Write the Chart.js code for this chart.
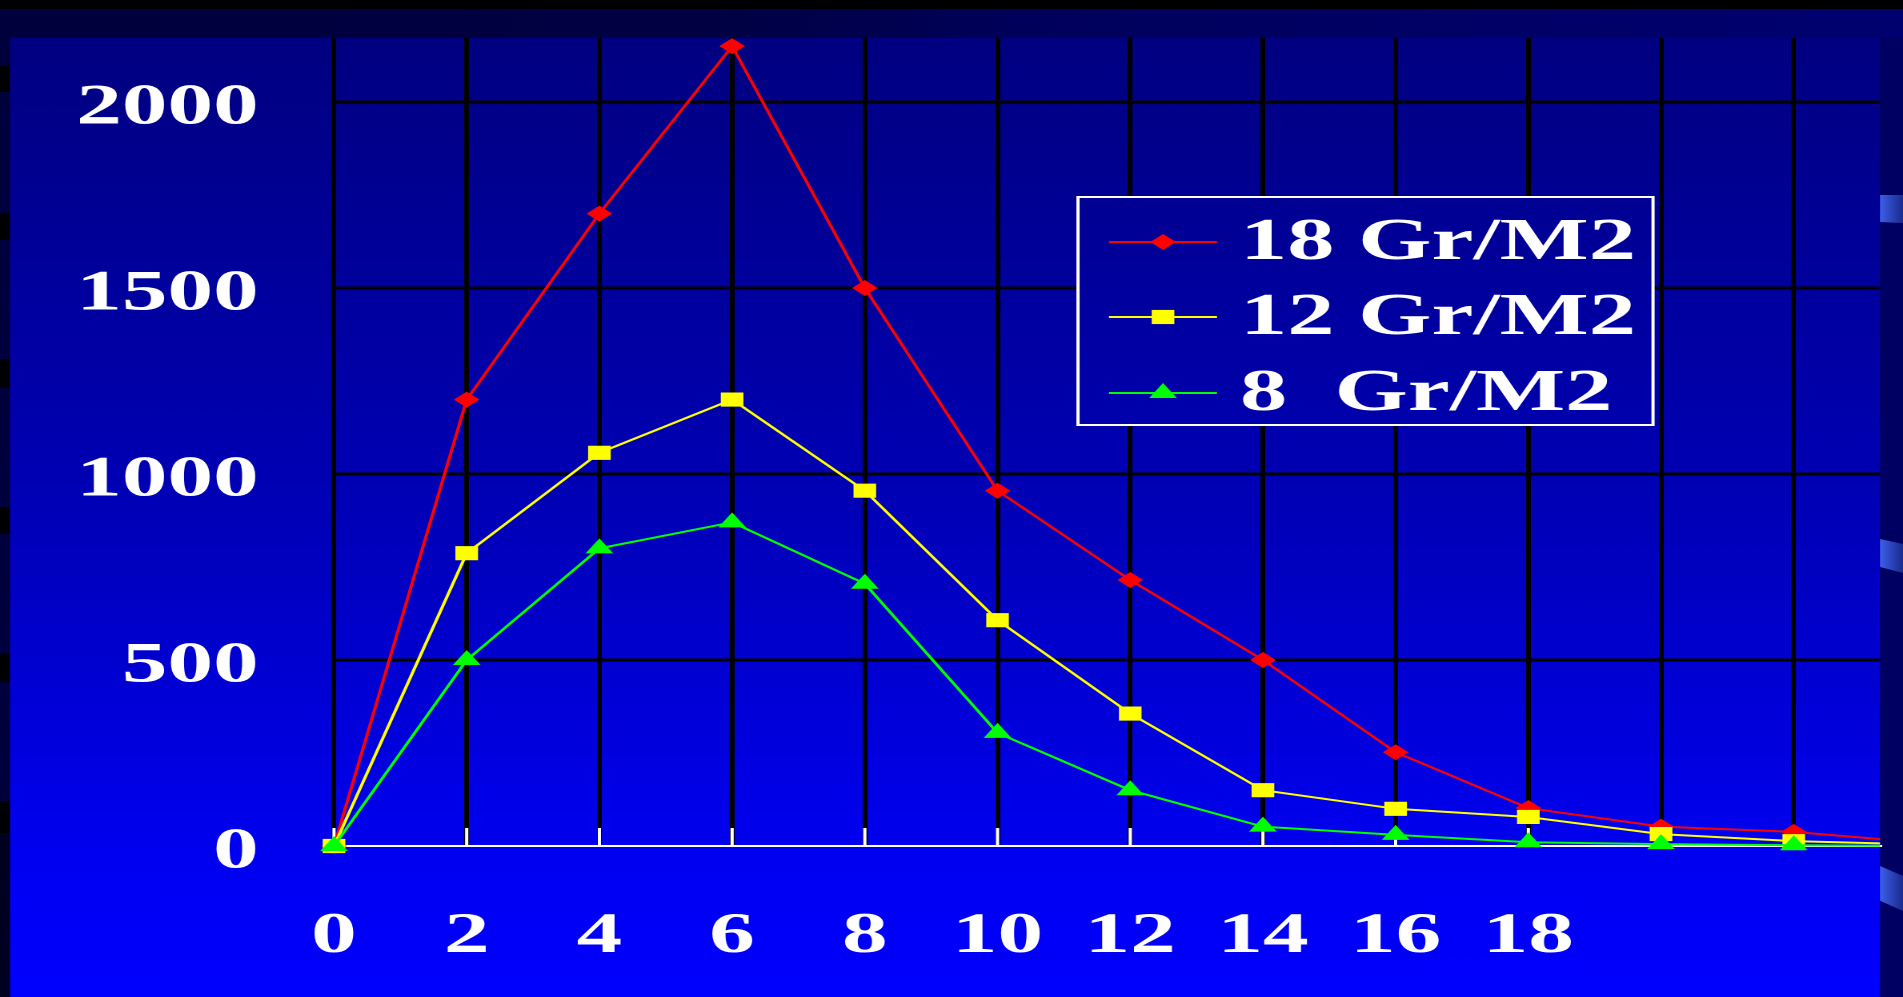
<!DOCTYPE html>
<html>
<head>
<meta charset="utf-8">
<script src="https://cdn.jsdelivr.net/npm/chart.js@4"></script>
<style>
  html, body { margin: 0; padding: 0; }
  body { width: 1903px; height: 997px; overflow: hidden; background: #000044; position: relative; }
  .abs { position: absolute; }
  #topbar { left: 0; top: 0; width: 1903px; height: 9px; background: #000; }
  #band { left: 0; top: 9px; width: 1903px; height: 29px;
          background: linear-gradient(90deg, #00003c 0%, #000044 38%, #00005c 55%, #000070 100%); }
  #leftStrip { left: 0; top: 38px; width: 10px; height: 959px; background: #00003c; }
  .blk { left: 0; width: 10px; background: #000; }
  #rightStrip { left: 1880px; top: 38px; width: 23px; height: 959px; background: #000062; }
  .deco { left: 1880px; width: 23px; background: linear-gradient(90deg, #3c5ee8, #1a2a8c); }
  #wrap { left: 0; top: 0; width: 1189px; height: 997px; transform-origin: 0 0; }
</style>
</head>
<body>
<div id="topbar" class="abs"></div>
<div id="band" class="abs"></div>
<div id="leftStrip" class="abs"></div>
<div class="abs blk" style="top:65px;height:27px"></div>
<div class="abs blk" style="top:213px;height:27px"></div>
<div class="abs blk" style="top:359px;height:29px"></div>
<div class="abs blk" style="top:507px;height:27px"></div>
<div class="abs blk" style="top:654px;height:28px"></div>
<div class="abs blk" style="top:801px;height:32px"></div>
<div class="abs" style="left:0;top:833px;width:10px;height:164px;background:#000020"></div>
<div id="rightStrip" class="abs"></div>
<div class="abs deco" style="top:195px;height:28px;clip-path:polygon(0 0,100% 0,100% 100%,0 96%)"></div>
<div class="abs deco" style="top:539px;height:34px;clip-path:polygon(0 0,100% 15%,100% 100%,0 82%)"></div>
<div class="abs deco" style="top:866px;height:45px;clip-path:polygon(0 0,100% 22%,100% 100%,0 77%)"></div>
<div id="wrap" class="abs"><canvas id="chart" width="1189" height="997"></canvas></div>

<script>
// the slide is stretched sideways, so the chart is drawn narrow and scaled
const STRETCH = 1903 / 1189;

const xValues = [0, 2, 4, 6, 8, 10, 12, 14, 16, 18, 20, 22, 24];
const red18 = [0, 1200, 1700, 2150, 1500, 955, 715, 500, 252, 102, 52, 38, 8];
const yellow12 = [0, 787, 1057, 1200, 955, 607, 356, 150, 100, 78, 32, 13, 4];
const green8 = [0, 500, 800, 870, 705, 304, 150, 52, 30, 10, 5, 2, 0];

const seriesNames = ['18 Gr/M2', '12 Gr/M2', '8  Gr/M2'];
const xGridValues = [0, 2, 4, 6, 8, 10, 12, 14, 16, 18, 20, 22];
const xTickLabels = ['0', '2', '4', '6', '8', '10', '12', '14', '16', '18'];
const yTickValues = [0, 500, 1000, 1500, 2000];

document.getElementById('wrap').style.transform = 'scaleX(' + STRETCH + ')';

const FONT = { family: "'Liberation Serif', 'Times New Roman', serif", size: 57, weight: 'bold' };
const LEGEND_SIZE = 59;
const colors = ['#ff0000', '#ffff00', '#00ff00'];
const styles = ['rectRot', 'rect', 'triangle'];
const radii = [8, 10, 10];

function toPoints(vals) {
  return vals.map((v, i) => ({ x: xValues[i], y: v }));
}

function panelGradient(ctx) {
  const g = ctx.createLinearGradient(0, 38, 0, 997);
  g.addColorStop(0, '#000080');
  g.addColorStop(0.5, '#0000b8');
  g.addColorStop(0.85, '#0000f0');
  g.addColorStop(1, '#0000ff');
  return g;
}

function marker(ctx, style, r, x, y) {
  if (Chart.helpers && Chart.helpers.drawPoint) {
    Chart.helpers.drawPoint(ctx, { pointStyle: style, radius: r, rotation: 0, borderWidth: 0 }, x, y);
    return;
  }
  ctx.beginPath();
  ctx.arc(x, y, r, 0, Math.PI * 2);
  ctx.fill();
}

const slidePlugin = {
  id: 'slide',
  beforeDraw(chart) {
    const ctx = chart.ctx;
    ctx.save();
    ctx.fillStyle = panelGradient(ctx);
    ctx.fillRect(10 / STRETCH, 38, chart.chartArea.right - 10 / STRETCH, 997 - 38);
    ctx.restore();
  },
  beforeDatasetsDraw(chart) {
    // small white ticks standing on the x axis
    const ctx = chart.ctx;
    const xs = chart.scales.x;
    const bottom = chart.chartArea.bottom;
    ctx.save();
    ctx.strokeStyle = '#ffffff';
    ctx.lineWidth = 2;
    xTickLabels.forEach((lbl, i) => {
      const px = xs.getPixelForValue(xGridValues[i]);
      ctx.beginPath();
      ctx.moveTo(px, bottom - 18);
      ctx.lineTo(px, bottom);
      ctx.stroke();
    });
    ctx.restore();
  },
  afterDatasetsDraw(chart) {
    const ctx = chart.ctx;
    const left = 1078 / STRETCH, right = 1653 / STRETCH;
    const top = 197, bottom = 425;
    ctx.save();
    ctx.fillStyle = panelGradient(ctx);
    ctx.fillRect(left, top, right - left, bottom - top);
    ctx.strokeStyle = '#ffffff';
    ctx.lineWidth = 2;
    ctx.strokeRect(left, top, right - left, bottom - top);

    const lineX0 = 1109 / STRETCH, lineX1 = 1217 / STRETCH;
    const textX = 1240 / STRETCH;
    const rows = [242, 317, 393];
    ctx.font = 'bold ' + LEGEND_SIZE + 'px ' + FONT.family;
    ctx.textBaseline = 'middle';
    ctx.textAlign = 'left';
    seriesNames.forEach((name, i) => {
      const y = rows[i];
      ctx.strokeStyle = colors[i];
      ctx.lineWidth = 2;
      ctx.beginPath();
      ctx.moveTo(lineX0, y);
      ctx.lineTo(lineX1, y);
      ctx.stroke();
      ctx.fillStyle = colors[i];
      marker(ctx, styles[i], radii[i], (lineX0 + lineX1) / 2, y);
      ctx.fillStyle = '#ffffff';
      ctx.fillText(name, textX, y + 2);
    });
    ctx.restore();
  }
};

const seriesValues = [red18, yellow12, green8];
const datasets = seriesValues.map((vals, i) => ({
  label: seriesNames[i],
  data: toPoints(vals),
  borderColor: colors[i],
  backgroundColor: colors[i],
  borderWidth: 2,
  pointStyle: styles[i],
  pointRadius: radii[i],
  pointBackgroundColor: colors[i],
  pointBorderWidth: 0,
  tension: 0,
  order: 2 - i,
  clip: { left: false, top: false, right: 0, bottom: false }
}));

new Chart(document.getElementById('chart'), {
  type: 'line',
  data: { datasets: datasets },
  options: {
    responsive: false,
    devicePixelRatio: 2,
    animation: false,
    events: [],
    layout: { padding: { left: 0, right: 1189 - 1880 / STRETCH, top: 38, bottom: 0 } },
    plugins: {
      legend: { display: false },
      tooltip: { enabled: false },
      title: { display: false }
    },
    scales: {
      x: {
        type: 'linear',
        min: 0,
        max: 23.3,
        afterBuildTicks: scale => { scale.ticks = xGridValues.map(v => ({ value: v })); },
        afterFit: scale => {
          scale.height = 151;
          scale.paddingLeft = 0;
          scale.paddingRight = 0;
        },
        grid: { color: '#000000', lineWidth: 3, drawTicks: false },
        border: { display: true, color: '#ffffff', width: 2 },
        ticks: {
          autoSkip: false,
          maxRotation: 0,
          padding: 57,
          color: '#ffffff',
          font: FONT,
          callback: (value, index) => xTickLabels[index] || ''
        }
      },
      y: {
        min: 0,
        max: 2172,
        afterBuildTicks: scale => { scale.ticks = yTickValues.map(v => ({ value: v })); },
        afterFit: scale => {
          scale.width = 334 / STRETCH;
          scale.paddingTop = 0;
          scale.paddingBottom = 0;
        },
        grid: {
          color: c => (c.tick && c.tick.value === 0 ? 'rgba(0,0,0,0)' : '#000000'),
          lineWidth: 3,
          drawTicks: false
        },
        border: { display: false },
        ticks: {
          autoSkip: false,
          padding: 47,
          labelOffset: 7,
          color: '#ffffff',
          font: FONT,
          callback: v => String(v)
        }
      }
    }
  },
  plugins: [slidePlugin]
});
</script>
</body>
</html>
